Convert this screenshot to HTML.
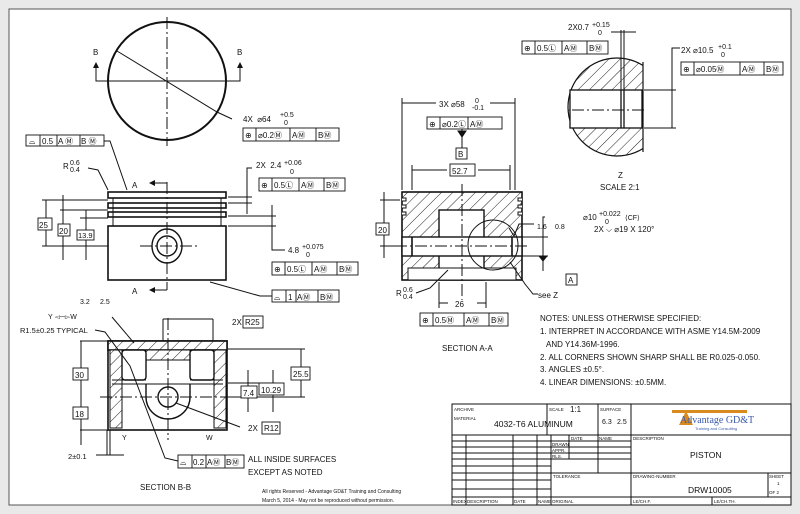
<!DOCTYPE html>
<html><head><meta charset="utf-8"><style>
html,body{margin:0;padding:0;background:#e9e9e9;}
svg{display:block;}
text{font-family:"Liberation Sans","DejaVu Sans",sans-serif;fill:#111;}
</style></head><body>
<svg width="800" height="514" viewBox="0 0 800 514" xmlns="http://www.w3.org/2000/svg">
<defs>
<pattern id="h" patternUnits="userSpaceOnUse" width="8" height="8" patternTransform="rotate(45)">
<rect width="8" height="8" fill="#fff"/><line x1="0" y1="0" x2="0" y2="8" stroke="#222" stroke-width="1"/></pattern>
<marker id="a" markerWidth="6" markerHeight="6" refX="5" refY="3" orient="auto"><path d="M0,0 L6,3 L0,6z" fill="#111"/></marker>
<clipPath id="zc"><rect x="560" y="50" width="83" height="110"/></clipPath>
</defs>
<rect x="9" y="9" width="782" height="496" fill="#fff" stroke="#555" stroke-width="1"/>
<g stroke="#111" fill="none" stroke-width="1">
<circle cx="167" cy="81" r="59" stroke-width="2"/>
<line x1="167" y1="17" x2="167" y2="146" stroke-dasharray="12,3,2,3"/>
<polyline points="96,63 96,81 240,81 240,63"/>
<line x1="96" y1="70" x2="96" y2="63" marker-end="url(#a)"/><line x1="240" y1="70" x2="240" y2="63" marker-end="url(#a)"/>
<polyline points="232,119 217,112 117,51"/>
<polyline points="104,141 110,141 127,190"/>
<polyline points="88,168 98,170 108,190"/>
<rect x="108" y="192" width="118" height="6" stroke-width="1.6"/>
<rect x="108" y="203" width="118" height="5" stroke-width="1.6"/>
<rect x="108" y="212" width="118" height="5" stroke-width="1.6"/>
<line x1="113" y1="198" x2="113" y2="226"/><line x1="221" y1="198" x2="221" y2="226"/>
<rect x="108" y="226" width="118" height="54" stroke-width="1.6"/>
<ellipse cx="167" cy="246" rx="15" ry="17" stroke-width="1.4"/>
<circle cx="167" cy="246" r="10" stroke-width="1.4"/>
<line x1="167" y1="182" x2="167" y2="290" stroke-dasharray="12,3,2,3"/>
<line x1="140" y1="246" x2="198" y2="246" stroke-dasharray="12,3,2,3"/>
<polyline points="150,183 167,183"/><polyline points="150,290 167,290"/>
<line x1="160" y1="183" x2="150" y2="183" marker-end="url(#a)"/><line x1="160" y1="290" x2="150" y2="290" marker-end="url(#a)"/>
<line x1="42" y1="200" x2="108" y2="200"/><line x1="60" y1="210" x2="108" y2="210"/><line x1="80" y1="218" x2="108" y2="218"/><line x1="42" y1="246" x2="108" y2="246"/>
<line x1="46" y1="200" x2="46" y2="246"/><line x1="63" y1="195" x2="63" y2="260"/><line x1="86" y1="210" x2="86" y2="260"/>
<line x1="228" y1="197" x2="252" y2="197"/><line x1="228" y1="203" x2="252" y2="203"/><polyline points="247,214 247,168 252,168"/>
<line x1="228" y1="216" x2="276" y2="216"/><line x1="228" y1="226" x2="276" y2="226"/><polyline points="272,205 272,250 285,250"/>
<polyline points="210,282 260,296 272,296"/>
<rect x="108" y="341" width="119" height="89" stroke-width="1.6"/>
<rect x="108" y="341" width="119" height="9" fill="url(#h)" stroke-width="1.6"/>
<rect x="146" y="350" width="44" height="10" fill="url(#h)"/>
<rect x="110" y="350" width="12" height="78" fill="url(#h)"/>
<rect x="214" y="350" width="12" height="78" fill="url(#h)"/>
<rect x="122" y="350" width="24" height="30" rx="3" fill="#fff" stroke-width="1.4"/>
<rect x="190" y="350" width="24" height="30" rx="3" fill="#fff" stroke-width="1.4"/>
<path d="M112,384 L223,384 M112,380 L146,380 M190,380 L223,380" />
<path d="M146,384 L146,397 A22,22 0 0 0 190,397 L190,384" stroke-width="1.4"/>
<circle cx="168" cy="397" r="10" stroke-width="1.4"/>
<line x1="168" y1="318" x2="168" y2="440" stroke-dasharray="12,3,2,3"/>
<line x1="100" y1="397" x2="232" y2="397" stroke-dasharray="12,3,2,3"/>
<line x1="80" y1="341" x2="108" y2="341"/><line x1="80" y1="430" x2="108" y2="430"/><line x1="81" y1="341" x2="81" y2="445"/>
<line x1="228" y1="349" x2="305" y2="349"/><line x1="228" y1="397" x2="305" y2="397"/><line x1="301" y1="349" x2="301" y2="397"/>
<line x1="228" y1="383" x2="276" y2="383"/><line x1="273" y1="370" x2="273" y2="412"/><line x1="248" y1="370" x2="248" y2="412"/>
<line x1="163" y1="319" x2="213" y2="319"/><line x1="213" y1="319" x2="213" y2="341"/><line x1="163" y1="319" x2="163" y2="341"/>
<line x1="176" y1="403" x2="240" y2="427"/>
<polyline points="95,330 105,332 130,366 165,458 178,461"/>
<polyline points="112,317 134,343"/>
<line x1="107" y1="430" x2="107" y2="455"/><line x1="110" y1="430" x2="110" y2="455"/><line x1="96" y1="455" x2="124" y2="455"/>
<rect x="402" y="192" width="120" height="88" fill="url(#h)" stroke-width="1.6"/>
<rect x="439" y="210" width="45" height="70" fill="#fff" stroke-width="1.4"/>
<rect x="402" y="237" width="120" height="19" fill="#fff" stroke-width="1.4"/>
<rect x="408" y="268" width="108" height="12" fill="#fff"/>
<path d="M402,198h4v3h-4M402,205h4v3h-4M402,212h4v3h-4M522,198h-4v3h4M522,205h-4v3h4M522,212h-4v3h4" fill="#fff"/>
<line x1="412" y1="237" x2="412" y2="256" stroke-width="1.6"/><line x1="512" y1="237" x2="512" y2="256" stroke-width="1.6"/>
<line x1="462" y1="184" x2="462" y2="300" stroke-dasharray="12,3,2,3"/>
<line x1="395" y1="246" x2="530" y2="246" stroke-dasharray="12,3,2,3"/>
<circle cx="493" cy="245" r="25"/>
<line x1="402" y1="98" x2="402" y2="190"/><line x1="515" y1="98" x2="515" y2="190"/>
<line x1="402" y1="103" x2="436" y2="103"/><line x1="490" y1="103" x2="515" y2="103"/>
<line x1="412" y1="165" x2="412" y2="190"/><line x1="510" y1="165" x2="510" y2="190"/>
<line x1="412" y1="170" x2="447" y2="170"/><line x1="478" y1="170" x2="510" y2="170"/>
<line x1="439" y1="282" x2="439" y2="308"/><line x1="486" y1="282" x2="486" y2="308"/>
<line x1="439" y1="303" x2="448" y2="303"/><line x1="477" y1="303" x2="486" y2="303"/>
<line x1="462" y1="128" x2="462" y2="148"/><path d="M458,131 L466,131 L462,137z" fill="#111"/>
<line x1="380" y1="200" x2="400" y2="200"/><line x1="380" y1="246" x2="400" y2="246"/><line x1="384" y1="192" x2="384" y2="258"/>
<polyline points="416,293 430,288 448,270"/>
<line x1="522" y1="237" x2="548" y2="237"/><line x1="522" y1="256" x2="548" y2="256"/>
<polyline points="545,217 543,217 543,258"/><path d="M539,256 L547,256 L543,261z" fill="#111"/>
<line x1="543" y1="261" x2="543" y2="271"/>
<polyline points="510,262 525,284 533,294 538,294"/>
<polyline points="509,228 514,236 519,224 534,224"/>
<g clip-path="url(#zc)">
<circle cx="617" cy="107" r="49" fill="url(#h)" stroke-width="1.2"/>
</g>
<line x1="643" y1="62" x2="643" y2="152" stroke-width="1.2"/>
<rect x="570" y="90" width="72" height="38" fill="#fff" stroke-width="1.3"/>
<line x1="621" y1="90" x2="621" y2="128" stroke-width="1.3"/><line x1="624" y1="90" x2="624" y2="128" stroke-width="1.3"/>
<line x1="621" y1="30" x2="621" y2="90"/><line x1="624" y1="30" x2="624" y2="90"/><line x1="611" y1="32" x2="636" y2="32"/>
<line x1="572" y1="110" x2="644" y2="110" stroke-dasharray="12,3,2,3"/>
<line x1="644" y1="90" x2="676" y2="90"/><line x1="644" y1="128" x2="676" y2="128"/><polyline points="680,48 672,48 672,128"/>
<rect x="452" y="404" width="339" height="101"/>
<path d="M452,435H791M547,404V435M598,404V473M631,404V505M631,473H791M631,497H791M768,473V497M712,497V505"/>
<path d="M452,441H631M452,447H631M452,453H631M452,459H631M452,466H551M452,473H631M452,480H551M452,489H551M452,497H631"/>
<path d="M466,435V505M513,435V505M537,435V505M551,435V505M569,435V459"/>
</g>
<g stroke="#111" fill="#fff" stroke-width="0.9">
<rect x="26" y="135" width="78" height="11"/><path d="M40,135v11M57,135v11M80,135v11" />
<rect x="243" y="128" width="96" height="13"/><path d="M256,128v13M290,128v13M316,128v13"/>
<rect x="259" y="178" width="86" height="13"/><path d="M272,178v13M299,178v13M324,178v13"/>
<rect x="272" y="262" width="86" height="13"/><path d="M285,262v13M312,262v13M337,262v13"/>
<rect x="272" y="290" width="67" height="12"/><path d="M286,290v12M296,290v12M318,290v12"/>
<rect x="178" y="455" width="66" height="13"/><path d="M192,455v13M206,455v13M225,455v13"/>
<rect x="427" y="117" width="75" height="12"/><path d="M440,117v12M468,117v12"/>
<rect x="420" y="313" width="88" height="13"/><path d="M433,313v13M464,313v13M489,313v13"/>
<rect x="522" y="41" width="86" height="13"/><path d="M535,41v13M562,41v13M587,41v13"/>
<rect x="681" y="62" width="102" height="13"/><path d="M694,62v13M740,62v13M764,62v13"/>
<rect x="456" y="148" width="11" height="11"/><rect x="566" y="274" width="11" height="11"/>
<rect x="38" y="218" width="14" height="12"/><rect x="58" y="224" width="12" height="12"/><rect x="77" y="230" width="17" height="10"/>
<rect x="376" y="223" width="13" height="12"/>
<rect x="73" y="368" width="15" height="12"/><rect x="73" y="407" width="15" height="12"/>
<rect x="291" y="367" width="19" height="13"/><rect x="259" y="383" width="25" height="12"/><rect x="241" y="386" width="16" height="12"/>
<rect x="243" y="316" width="20" height="12"/><rect x="262" y="422" width="18" height="12"/>
<rect x="450" y="164" width="25" height="12"/>
</g>
<g font-size="8">
<text x="29" y="144">⌓</text><text x="42" y="144">0.5</text><text x="58" y="144">A Ⓜ</text><text x="81" y="144">B Ⓜ</text>
<text x="245" y="138">⊕</text><text x="258" y="138">⌀0.2Ⓜ</text><text x="292" y="138">AⓂ</text><text x="318" y="138">BⓂ</text>
<text x="261" y="188">⊕</text><text x="274" y="188">0.5Ⓛ</text><text x="301" y="188">AⓂ</text><text x="326" y="188">BⓂ</text>
<text x="274" y="272">⊕</text><text x="287" y="272">0.5Ⓛ</text><text x="314" y="272">AⓂ</text><text x="339" y="272">BⓂ</text>
<text x="274" y="300">⌓</text><text x="288" y="300">1</text><text x="297" y="300">AⓂ</text><text x="320" y="300">BⓂ</text>
<text x="180" y="465">⌓</text><text x="193" y="465">0.2</text><text x="207" y="465">AⓂ</text><text x="226" y="465">BⓂ</text>
<text x="429" y="127">⊕</text><text x="442" y="127">⌀0.2Ⓛ</text><text x="470" y="127">AⓂ</text>
<text x="422" y="323">⊕</text><text x="435" y="323">0.5Ⓜ</text><text x="466" y="323">AⓂ</text><text x="491" y="323">BⓂ</text>
<text x="524" y="51">⊕</text><text x="537" y="51">0.5Ⓛ</text><text x="564" y="51">AⓂ</text><text x="589" y="51">BⓂ</text>
<text x="683" y="72">⊕</text><text x="696" y="72">⌀0.05Ⓜ</text><text x="742" y="72">AⓂ</text><text x="766" y="72">BⓂ</text>
<text x="458" y="157">B</text><text x="568" y="283">A</text>
<text x="39" y="228">25</text><text x="59" y="234">20</text><text x="78" y="238" font-size="7.5">13.9</text><text x="378" y="233">20</text>
<text x="75" y="378">30</text><text x="75" y="417">18</text><text x="293" y="377">25.5</text><text x="261" y="393">10.29</text><text x="243" y="396">7.4</text>
<text x="232" y="325">2X</text><text x="245" y="325">R25</text><text x="248" y="431">2X</text><text x="264" y="431">R12</text>
<text x="452" y="174">52.7</text><text x="455" y="307">26</text>
<text x="93" y="55">B</text><text x="237" y="55">B</text><text x="132" y="188">A</text><text x="132" y="294">A</text>
<text x="243" y="122">4X &#160;⌀64</text><text x="280" y="117" font-size="7">+0.5</text><text x="284" y="125" font-size="7">0</text>
<text x="256" y="168">2X &#160;2.4</text><text x="284" y="165" font-size="7">+0.06</text><text x="290" y="174" font-size="7">0</text>
<text x="288" y="253">4.8</text><text x="302" y="249" font-size="7">+0.075</text><text x="306" y="257" font-size="7">0</text>
<text x="63" y="169">R</text><text x="70" y="165" font-size="7">0.6</text><text x="70" y="172" font-size="7">0.4</text>
<text x="396" y="296">R</text><text x="403" y="292" font-size="7">0.6</text><text x="403" y="299" font-size="7">0.4</text>
<text x="439" y="107">3X ⌀58</text><text x="475" y="103" font-size="7">0</text><text x="472" y="110" font-size="7">-0.1</text>
<text x="568" y="30">2X0.7</text><text x="592" y="27" font-size="7">+0.15</text><text x="598" y="35" font-size="7">0</text>
<text x="681" y="53">2X ⌀10.5</text><text x="718" y="49" font-size="7">+0.1</text><text x="721" y="57" font-size="7">0</text>
<text x="618" y="178">Z</text><text x="600" y="190">SCALE 2:1</text>
<text x="583" y="220">⌀10</text><text x="599" y="216" font-size="7">+0.022</text><text x="605" y="224" font-size="7">0</text><text x="625" y="220" font-size="7">⟨CF⟩</text>
<text x="594" y="232">2X ⌵ ⌀19 X 120°</text>
<text x="537" y="229" font-size="7">1.6</text><text x="555" y="229" font-size="7">0.8</text>
<text x="538" y="298">see Z</text>
<text x="442" y="351">SECTION A-A</text>
<text x="140" y="490">SECTION B-B</text>
<text x="80" y="304" font-size="7">3.2</text><text x="100" y="304" font-size="7">2.5</text>
<text x="48" y="319" font-size="7">Y ◅─▻W</text>
<text x="20" y="333" font-size="7.5">R1.5±0.25 TYPICAL</text>
<text x="122" y="440" font-size="7">Y</text><text x="206" y="440" font-size="7">W</text>
<text x="68" y="459" font-size="7.5">2±0.1</text>
<text x="248" y="462">ALL INSIDE SURFACES</text><text x="248" y="475">EXCEPT AS NOTED</text>
<text x="262" y="493" font-size="5">All rights Reserved - Advantage GD&amp;T Training and Consulting</text>
<text x="262" y="502" font-size="5">March 5, 2014 - May not be reproduced without permission.</text>
<text x="540" y="321">NOTES: UNLESS OTHERWISE SPECIFIED:</text>
<text x="540" y="334">1. INTERPRET IN ACCORDANCE WITH ASME Y14.5M-2009</text>
<text x="546" y="347">AND Y14.36M-1996.</text>
<text x="540" y="360">2. ALL CORNERS SHOWN SHARP SHALL BE R0.025-0.050.</text>
<text x="540" y="372">3. ANGLES ±0.5°.</text>
<text x="540" y="385">4. LINEAR DIMENSIONS: ±0.5MM.</text>
</g>
<g font-size="4.5">
<text x="454" y="411">ARCHIVE</text><text x="454" y="420">MATERIAL</text><text x="549" y="411">SCALE</text><text x="600" y="411">SURFACE</text>
<text x="571" y="440">DATE</text><text x="599" y="440">NAME</text><text x="552" y="446">DRAWN</text><text x="552" y="452">APPR.</text><text x="552" y="458">RLS.</text>
<text x="553" y="478">TOLERANCE</text><text x="633" y="440">DESCRIPTION</text><text x="633" y="478">DRAWING-NUMBER</text>
<text x="769" y="478">SHEET</text><text x="777" y="485">1</text><text x="769" y="494">OF 2</text>
<text x="453" y="503">INDEX</text><text x="467" y="503">DESCRIPTION</text><text x="514" y="503">DATE</text><text x="538" y="503">NAME</text><text x="552" y="503">ORIGINAL</text>
<text x="633" y="503">LE/CH.F.</text><text x="714" y="503">LE/CH.TH.</text>
</g>
<text x="570" y="412" font-size="8">1:1</text>
<text x="494" y="427" font-size="8.5">4032-T6 ALUMINUM</text>
<text x="602" y="424" font-size="7">6.3</text><text x="617" y="424" font-size="7">2.5</text>
<text x="690" y="458" font-size="8.5">PISTON</text>
<text x="688" y="493" font-size="8.5">DRW10005</text>
<rect x="672" y="410" width="75" height="3" fill="#d98a1e"/>
<path d="M679,425 L686,411 L693,425z" fill="#d98a1e"/>
<text x="680" y="423" font-size="10" style="font-family:'Liberation Serif',serif;fill:#3a5aa8">Advantage GD&amp;T</text>
<text x="695" y="430" font-size="4" style="fill:#3a5aa8">Training and Consulting</text>
</svg>
</body></html>
